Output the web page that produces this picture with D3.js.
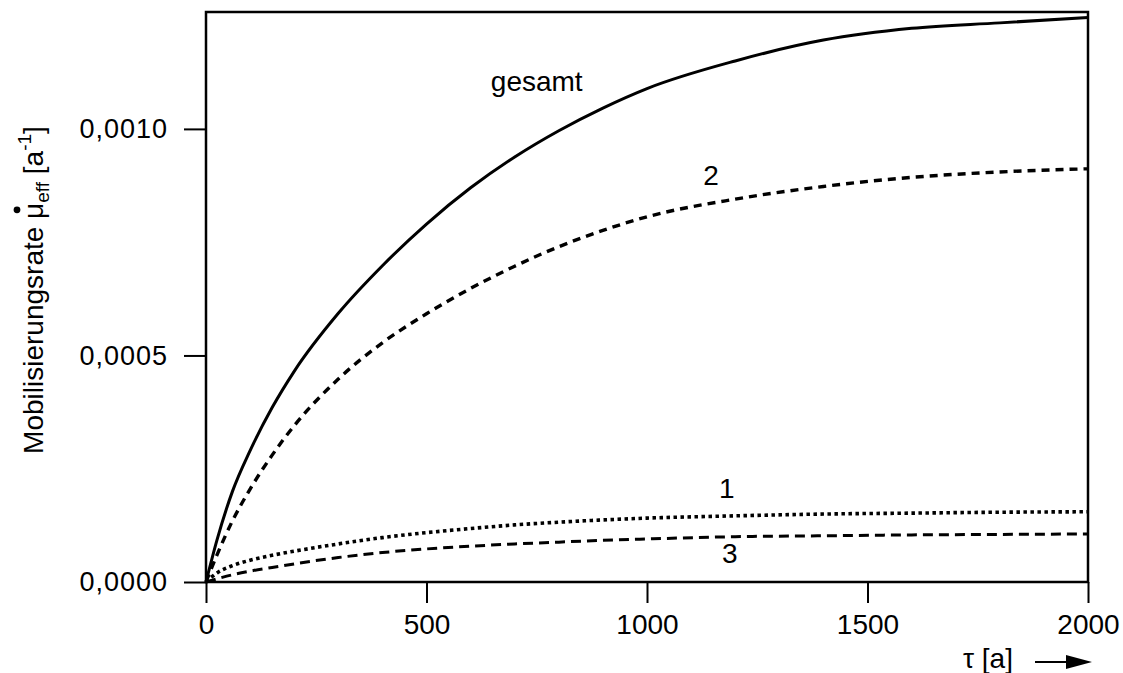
<!DOCTYPE html>
<html>
<head>
<meta charset="utf-8">
<script src="https://cdn.jsdelivr.net/npm/d3@7"></script>
<style>
  body { margin: 0; background: #fff; }
  text { font-family: "Liberation Sans", Arial, sans-serif; fill: #000; }
</style>
</head>
<body>
<script>
// tau in years
const tau = [0, 25, 60, 100, 150, 200, 300, 400, 500, 600, 700, 800, 900, 1000, 1200, 1400, 1600, 1800, 2000]

// mobilisation rate per year
const gesamt = [0, 0.000093, 0.00020, 0.00029, 0.000385, 0.000465, 0.000593, 0.000698, 0.000790, 0.000870, 0.000938, 0.000996, 0.001046, 0.001089, 0.001150, 0.001196, 0.001222, 0.001234, 0.001246]
const kurve2 = [0, 0.000060, 0.000135, 0.000205, 0.000280, 0.000345, 0.000448, 0.000528, 0.000592, 0.000648, 0.000697, 0.000740, 0.000776, 0.000806, 0.000845, 0.000873, 0.000893, 0.000905, 0.000912]
const kurve1 = [0, 0.000020, 0.000036, 0.000048, 0.000059, 0.000068, 0.000084, 0.000098, 0.000109, 0.000118, 0.000126, 0.000132, 0.000137, 0.000141, 0.000146, 0.000150, 0.000152, 0.000154, 0.000155]
const kurve3 = [0, 0.000007, 0.000016, 0.000024, 0.000032, 0.000040, 0.000054, 0.000065, 0.000073, 0.000079, 0.000084, 0.000088, 0.000092, 0.000095, 0.000100, 0.000102, 0.000104, 0.000105, 0.000106]

const xTicks = [0, 500, 1000, 1500, 2000]
const yTicks = [0, 0.0005, 0.0010]

width = 1123
height = 673
margin = ({top: 12, right: 35, bottom: 91, left: 206})

const svg = d3.select("body").append("svg")
    .attr("width", width)
    .attr("height", height)

let x = d3.scaleLinear()
    .domain([0, 2000])
    .range([margin.left, width - margin.right])

let y = d3.scaleLinear()
    .domain([0, 0.001258])
    .range([height - margin.bottom, margin.top])

const fmt = d => d3.format(".4f")(d).replace(".", ",")

// axes
let xAxis = g => g
    .attr("transform", `translate(0,${y(0)})`)
    .call(d3.axisBottom(x).tickValues(xTicks).tickFormat(d3.format("d")).tickSize(21).tickPadding(11).tickSizeOuter(0))
    .call(g => g.select(".domain").remove())
    .call(g => g.selectAll("line").attr("stroke-width", 2))
    .call(g => g.selectAll("text").attr("font-size", 28).attr("font-family", null))

let yAxis = g => g
    .attr("transform", `translate(${x(0)},0)`)
    .call(d3.axisLeft(y).tickValues(yTicks).tickFormat(fmt).tickSize(22).tickPadding(16).tickSizeOuter(0))
    .call(g => g.select(".domain").remove())
    .call(g => g.selectAll("line").attr("stroke-width", 2))
    .call(g => g.selectAll("text").attr("font-size", 27).attr("font-family", null).attr("letter-spacing", 1))

svg.append("g").call(xAxis)
svg.append("g").call(yAxis)

// frame
svg.append("rect")
    .attr("x", x(0))
    .attr("y", y.range()[1])
    .attr("width", x(2000) - x(0))
    .attr("height", y(0) - y.range()[1])
    .attr("fill", "none")
    .attr("stroke", "#000")
    .attr("stroke-width", 2.5)

// curves
const series = [
    {values: gesamt, dash: null, w: 3},
    {values: kurve2, dash: "8,6", w: 3.4},
    {values: kurve1, dash: "3.5,3.5", w: 3.6},
    {values: kurve3, dash: "10,6", w: 3}
]

let line = d3.line()
    .x(d => x(d[0]))
    .y(d => y(d[1]))
    .curve(d3.curveMonotoneX)

svg.append("g")
    .attr("fill", "none")
    .attr("stroke", "#000")
  .selectAll("path")
  .data(series)
  .join("path")
    .attr("stroke-width", d => d.w)
    .attr("stroke-dasharray", d => d.dash)
    .attr("d", d => line(tau.map((t, i) => [t, d.values[i]])))

// curve labels
const labels = [
    {text: "gesamt", t: 750, dy: 91},
    {text: "2", t: 1145, dy: 185},
    {text: "1", t: 1181, dy: 498},
    {text: "3", t: 1188, dy: 563}
]

svg.append("g")
    .attr("font-size", 28)
    .attr("text-anchor", "middle")
  .selectAll("text")
  .data(labels)
  .join("text")
    .attr("x", d => x(d.t))
    .attr("y", d => d.dy)
    .text(d => d.text)

// y axis title
const yTitle = svg.append("text")
    .attr("transform", `translate(43,290) rotate(-90)`)
    .attr("text-anchor", "middle")
    .attr("font-size", 28)

yTitle.append("tspan").text("Mobilisierungsrate ")
yTitle.append("tspan").text("μ")
yTitle.append("tspan").attr("font-size", 19).attr("dy", 6).text("eff")
yTitle.append("tspan").attr("dy", -6).text("  [a")
yTitle.append("tspan").attr("font-size", 19).attr("dy", -12).text("-1")
yTitle.append("tspan").attr("dy", 12).text("]")

// dot above mu
let muIndex = "Mobilisierungsrate ".length
let p0 = yTitle.node().getStartPositionOfChar(muIndex)
let p1 = yTitle.node().getEndPositionOfChar(muIndex)
svg.append("circle")
    .attr("transform", `translate(43,290) rotate(-90)`)
    .attr("cx", (p0.x + p1.x) / 2 + 1)
    .attr("cy", p0.y - 26)
    .attr("r", 3.4)
    .attr("fill", "#000")

// x axis title with arrow
svg.append("text")
    .attr("x", 963)
    .attr("y", 668)
    .attr("font-size", 28)
    .text("τ [a]")

svg.append("line")
    .attr("x1", 1035)
    .attr("x2", 1072)
    .attr("y1", 662)
    .attr("y2", 662)
    .attr("stroke", "#000")
    .attr("stroke-width", 2.2)

svg.append("path")
    .attr("d", "M1066,655 L1092,662 L1066,669 Z")
    .attr("fill", "#000")
</script>
</body>
</html>
